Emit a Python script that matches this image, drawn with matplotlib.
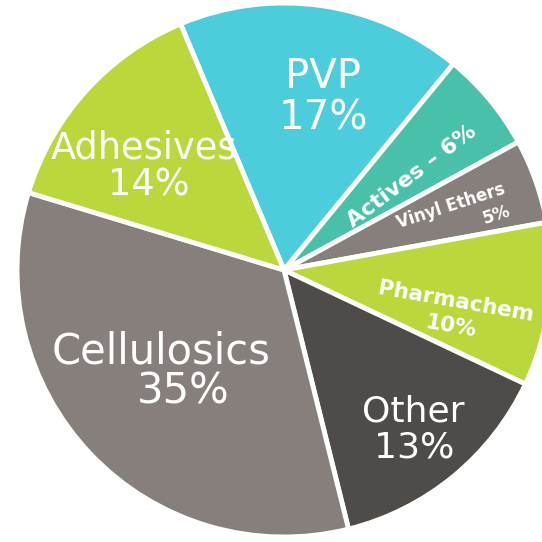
import matplotlib.pyplot as plt

# segments clockwise from the top; slice sizes,
# printed labels as shown on the chart
segments = ['PVP', 'Actives', 'Vinyl Ethers', 'Pharmachem', 'Other', 'Cellulosics', 'Adhesives']
sizes = [17.3, 6.1, 5.1, 9.9, 14.1, 33.6, 14.0]
pct_labels = ['17%', '6%', '5%', '10%', '13%', '35%', '14%']
colors = ['#4BCDDB', '#48C0AA', '#877F7C', '#BAD73B', '#4F4B48', '#877F7C', '#BAD73B']

plt.rcParams['font.family'] = ['DejaVu Sans']

W = 542
fig = plt.figure(figsize=(5.42, 5.42), dpi=100)
ax = fig.add_axes([0, 0, 1, 1])

ax.pie(sizes, colors=colors, startangle=112.8, counterclock=False,
       center=(284, W - 270), radius=267,
       wedgeprops=dict(edgecolor='white', linewidth=3.5))
ax.set_xlim(0, W)
ax.set_ylim(0, W)
ax.set_aspect('equal')
ax.axis('off')

def label(x, y, s, size, rot=0, weight='normal'):
    # positions given in image pixels (y from top)
    ax.text(x, W - y, s, color='white', fontsize=size, rotation=rot,
            ha='center', va='center', weight=weight, rotation_mode='anchor')

# large labels
label(323, 77, segments[0], 29)
label(323, 118, pct_labels[0], 29)
label(144, 148, segments[6], 26.5)
label(149, 185, pct_labels[6], 26.5)
label(161, 351, segments[5], 30)
label(183, 392, pct_labels[5], 30)
label(413, 411, segments[4], 26)
label(414, 447, pct_labels[4], 26)

# small rotated labels
label(412, 176, f'{segments[1]} \u2013 {pct_labels[1]}', 16, rot=37, weight='bold')
label(451, 206, segments[2], 12, rot=18, weight='bold')
label(497, 215, pct_labels[2], 12, rot=18, weight='bold')
label(456, 302, segments[3], 15.5, rot=-10, weight='bold')
label(451, 327, pct_labels[3], 15.5, rot=-10, weight='bold')

fig.savefig('out.png', dpi=100)
